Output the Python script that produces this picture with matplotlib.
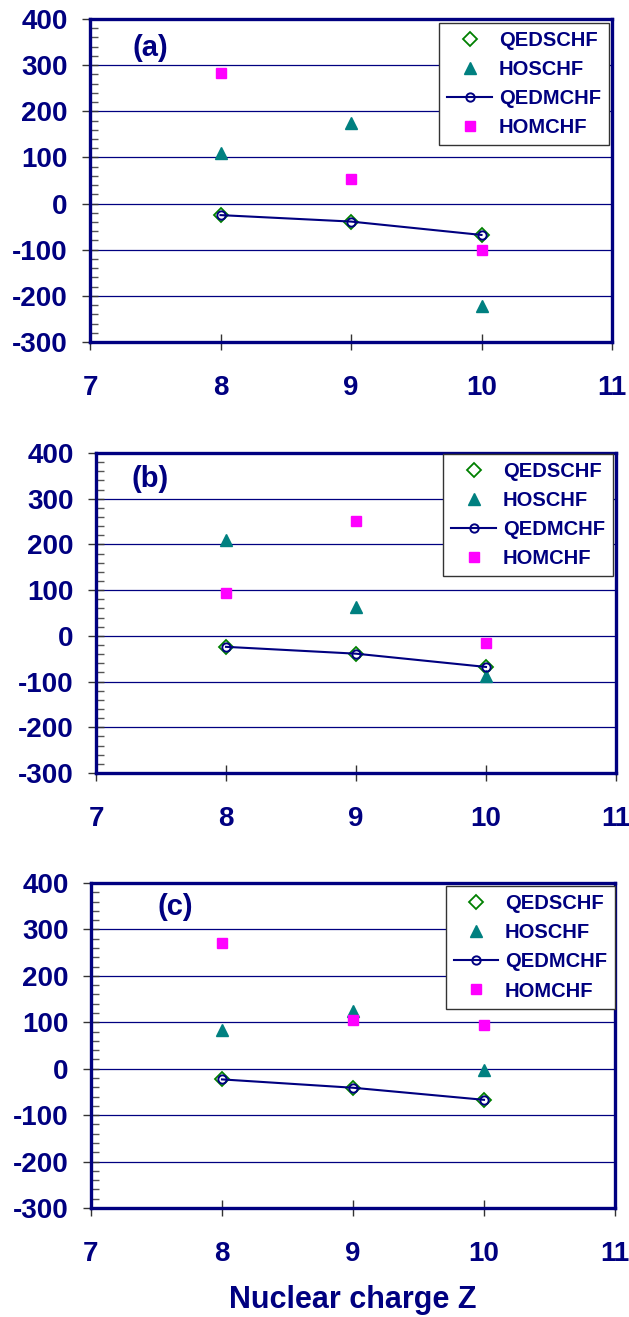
import matplotlib
matplotlib.use("Agg")
import matplotlib.pyplot as plt
from matplotlib.ticker import MultipleLocator

plt.rcParams["axes.unicode_minus"] = False

# ---------------- data ----------------
Z = [8, 9, 10]
series_names = ["QEDSCHF", "HOSCHF", "QEDMCHF", "HOMCHF"]
panel_labels = ["(a)", "(b)", "(c)"]

a_qedschf = [-25, -40, -68]
a_hoschf = [110, 175, -222]
a_qedmchf = [-25, -39, -68]
a_homchf = [284, 53, -100]

b_qedschf = [-25, -40, -69]
b_hoschf = [209, 63, -88]
b_qedmchf = [-24, -39, -68]
b_homchf = [94, 251, -16]

c_qedschf = [-23, -41, -67]
c_hoschf = [83, 124, -3]
c_qedmchf = [-23, -41, -67]
c_homchf = [270, 104, 95]

x_ticks = [7, 8, 9, 10, 11]
y_ticks = [-300, -200, -100, 0, 100, 200, 300, 400]
x_label = "Nuclear charge Z"

panels = [
    (a_qedschf, a_hoschf, a_qedmchf, a_homchf),
    (b_qedschf, b_hoschf, b_qedmchf, b_homchf),
    (c_qedschf, c_hoschf, c_qedmchf, c_homchf),
]

# ---------------- style ----------------
NAVY = "#000080"
TEAL = "#008080"
MAGENTA = "#FF00FF"
GREEN = "#008000"
FONT = "Liberation Sans"

W, H = 629, 1317
fig = plt.figure(figsize=(W / 100, H / 100), dpi=100)

# axes boxes in pixels: left, right, top, bottom
boxes = [(90, 612, 19, 342), (96, 616, 453, 773), (91, 615, 883, 1208)]
label_pos = [(0.115, 0.91), (0.104, 0.919), (0.161, 0.925)]
legend_anchor = [(0.994, 0.988), (0.994, 0.997), (1.0, 0.99)]

for i, (vals, box, lp, la) in enumerate(zip(panels, boxes, label_pos, legend_anchor)):
    l, r, t, b = box
    ax = fig.add_axes([l / W, 1 - b / H, (r - l) / W, (b - t) / H])
    qs, hs, qm, hm = vals

    ax.plot(Z, qs, linestyle="none", marker="D", ms=7, mfc="none",
            mec=GREEN, mew=1.3, label=series_names[0], zorder=3)
    ax.plot(Z, hs, linestyle="none", marker="^", ms=9, color=TEAL,
            label=series_names[1], zorder=3)
    ax.plot(Z, qm, linestyle="-", color=NAVY, lw=1.5, marker="o", ms=6,
            mfc="none", mec=NAVY, mew=1.4, label=series_names[2], zorder=4)
    ax.plot(Z, hm, linestyle="none", marker="s", ms=7, color=MAGENTA,
            label=series_names[3], zorder=5)

    ax.set_xlim(7, 11)
    ax.set_ylim(-300, 400)
    ax.set_xticks(x_ticks)
    ax.set_yticks(y_ticks)
    ax.yaxis.set_minor_locator(MultipleLocator(20))
    ax.grid(axis="y", which="major", color=NAVY, lw=0.9, zorder=0)
    ax.set_axisbelow(True)

    for s in ax.spines.values():
        s.set_color(NAVY)
        s.set_linewidth(2.4)
        s.set_zorder(6)

    ax.tick_params(axis="y", which="major", direction="inout", length=12,
                   width=1, color="#333333", pad=10, labelsize=20,
                   labelcolor=NAVY)
    ax.tick_params(axis="y", which="minor", direction="in", length=6,
                   width=1, color="#555555")
    ax.tick_params(axis="x", which="major", direction="inout", length=12,
                   width=1, color="#333333", pad=18, labelsize=20,
                   labelcolor=NAVY)
    for lab in ax.get_xticklabels() + ax.get_yticklabels():
        lab.set_fontfamily(FONT)
        lab.set_fontweight("bold")

    ax.text(lp[0], lp[1], panel_labels[i], transform=ax.transAxes,
            ha="center", va="center", fontsize=21, fontweight="bold",
            color=NAVY, family=FONT)

    leg = ax.legend(loc="upper right", bbox_to_anchor=la, borderaxespad=0,
                    prop={"family": FONT, "weight": "bold", "size": 14.5},
                    labelcolor=NAVY, frameon=True, fancybox=False,
                    edgecolor="#333333", framealpha=1, handlelength=2.2,
                    handletextpad=0.35, labelspacing=0.5, borderpad=0.4)
    leg.get_frame().set_linewidth(1.0)
    leg.set_zorder(7)

    if i == 2:
        ax.set_xlabel(x_label, fontsize=22, fontweight="bold", color=NAVY,
                      family=FONT, labelpad=13)

fig.savefig("out.png", dpi=100)
